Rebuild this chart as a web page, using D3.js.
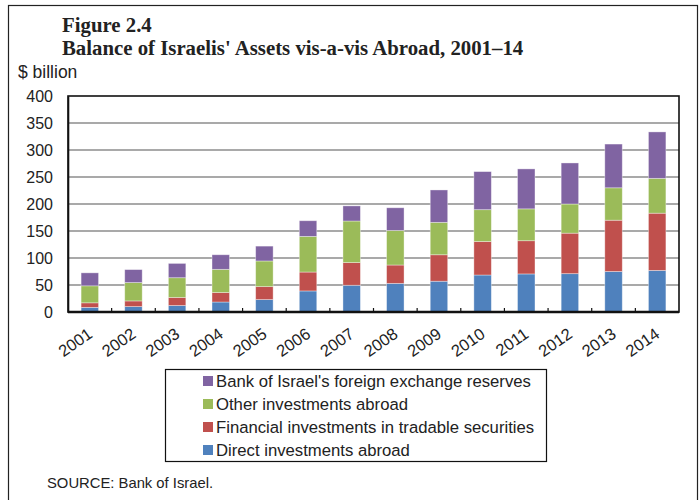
<!DOCTYPE html>
<html>
<head>
<meta charset="utf-8">
<script src="https://cdn.jsdelivr.net/npm/d3@7"></script>
<style>
  html, body { margin: 0; padding: 0; background: #fff; }
  svg { display: block; }
</style>
</head>
<body>
<svg id="chart" width="699" height="500"></svg>
<script>
// Balance of Israelis' assets vis-a-vis abroad, $ billion
const years = ["2001","2002","2003","2004","2005","2006","2007","2008","2009","2010","2011","2012","2013","2014"];
const directInvestments    = [8.5, 10, 12, 18.5, 23, 39, 49.5, 53, 57, 68.5, 70.5, 71, 75, 77];
const financialInvestments = [8.5, 10.5, 15, 17.5, 24, 35, 42, 34, 49, 62, 61.5, 75, 95, 106];
const otherInvestments     = [31.5, 34, 36.5, 43, 47.5, 66, 77, 64, 60, 59, 59, 54, 60, 64.5];
const fxReserves           = [24, 24, 26.5, 27, 27.5, 29, 28, 42, 60, 70.5, 74, 76, 81, 86];
const yTicks = [0, 50, 100, 150, 200, 250, 300, 350, 400];

const seriesKeys   = ["direct", "financial", "other", "reserves"];
const seriesNames  = {
  direct: "Direct investments abroad",
  financial: "Financial investments in tradable securities",
  other: "Other investments abroad",
  reserves: "Bank of Israel's foreign exchange reserves"
};
const seriesColors = { direct: "#4F81BD", financial: "#C0504D", other: "#9BBB59", reserves: "#8064A2" };

const rows = years.map((y, i) => ({
  year: y,
  direct: directInvestments[i],
  financial: financialInvestments[i],
  other: otherInvestments[i],
  reserves: fxReserves[i]
}));

const svg = d3.select("#chart");
const sans = "'Liberation Sans', Arial, sans-serif";
const serif = "'Liberation Serif', 'Times New Roman', serif";

// outer frame
svg.append("rect")
  .attr("x", 8.5).attr("y", 5.5).attr("width", 689).attr("height", 520)
  .attr("fill", "none").attr("stroke", "#222").attr("stroke-width", 1.2);

// titles
svg.append("text").attr("x", 62).attr("y", 32)
  .attr("font-family", serif).attr("font-weight", "bold").attr("font-size", 20.8)
  .attr("fill", "#222").text("Figure 2.4");
svg.append("text").attr("x", 62).attr("y", 55)
  .attr("font-family", serif).attr("font-weight", "bold").attr("font-size", 20.8)
  .attr("fill", "#222").text("Balance of Israelis' Assets vis-a-vis Abroad, 2001\u201314");

svg.append("text").attr("x", 18).attr("y", 78)
  .attr("font-family", sans).attr("font-size", 17.5).attr("fill", "#222")
  .text("$ billion");

const plot = { left: 68, right: 679, top: 96, bottom: 312 };

const x = d3.scaleBand().domain(years).range([plot.left, plot.right]).paddingInner(0.6).paddingOuter(0.3);
const y = d3.scaleLinear().domain([0, 400]).range([plot.bottom, plot.top]);

// horizontal gridlines
svg.append("g").selectAll("line").data(yTicks.filter(t => t > 0 && t < 400)).join("line")
  .attr("x1", plot.left).attr("x2", plot.right)
  .attr("y1", d => y(d)).attr("y2", d => y(d))
  .attr("stroke", "#8c8c8c").attr("stroke-width", 1.3);

// stacked bars
const stack = d3.stack().keys(seriesKeys)(rows);
svg.append("g").selectAll("g").data(stack).join("g")
  .attr("fill", d => seriesColors[d.key])
  .selectAll("rect").data(d => d).join("rect")
  .attr("x", d => x(d.data.year))
  .attr("width", x.bandwidth())
  .attr("y", d => y(d[1]))
  .attr("height", d => y(d[0]) - y(d[1]))
  .attr("stroke", "rgba(255,255,255,0.45)").attr("stroke-width", 0.8);

// plot border
svg.append("rect")
  .attr("x", plot.left).attr("y", plot.top)
  .attr("width", plot.right - plot.left).attr("height", plot.bottom - plot.top)
  .attr("fill", "none").attr("stroke", "#111").attr("stroke-width", 1.6);

// y axis
const yAxis = svg.append("g").attr("transform", `translate(${plot.left},0)`)
  .call(d3.axisLeft(y).tickValues(yTicks).tickSize(0).tickPadding(15));
yAxis.select(".domain").attr("stroke", "#111").attr("stroke-width", 1.6);
yAxis.selectAll("text").attr("font-family", sans).attr("font-size", 16).attr("fill", "#222");

// x axis with inward ticks between categories
svg.append("line")
  .attr("x1", plot.left).attr("x2", plot.right)
  .attr("y1", plot.bottom).attr("y2", plot.bottom)
  .attr("stroke", "#111").attr("stroke-width", 2.4);
const step = x.step();
svg.append("g").selectAll("line").data(years.slice(1)).join("line")
  .attr("x1", d => x(d) - x.paddingInner() * step / 2)
  .attr("x2", d => x(d) - x.paddingInner() * step / 2)
  .attr("y1", plot.bottom).attr("y2", plot.bottom - 4)
  .attr("stroke", "#111").attr("stroke-width", 1.2);

svg.append("g").selectAll("text").data(years).join("text")
  .attr("transform", d => `translate(${x(d) + x.bandwidth() / 2 - 3},${plot.bottom + 15}) rotate(-35)`)
  .attr("text-anchor", "end").attr("dy", "0.7em")
  .attr("font-family", sans).attr("font-size", 16.5).attr("fill", "#222")
  .text(d => d);

// legend
const legend = svg.append("g");
legend.append("rect")
  .attr("x", 165.5).attr("y", 369.5).attr("width", 381).attr("height", 92)
  .attr("fill", "#fff").attr("stroke", "#111").attr("stroke-width", 1.2);
const legendOrder = ["reserves", "other", "financial", "direct"];
const items = legend.selectAll("g.item").data(legendOrder).join("g")
  .attr("class", "item")
  .attr("transform", (d, i) => `translate(203,${381 + i * 23})`);
items.append("rect").attr("x", 0).attr("y", -5).attr("width", 10).attr("height", 10)
  .attr("fill", d => seriesColors[d]);
items.append("text").attr("x", 13).attr("y", 0).attr("dy", "0.35em")
  .attr("font-family", sans).attr("font-size", 16.7).attr("fill", "#222")
  .text(d => seriesNames[d]);

svg.append("text").attr("x", 47).attr("y", 488)
  .attr("font-family", sans).attr("font-size", 14.8).attr("fill", "#222")
  .text("SOURCE: Bank of Israel.");
</script>
</body>
</html>
